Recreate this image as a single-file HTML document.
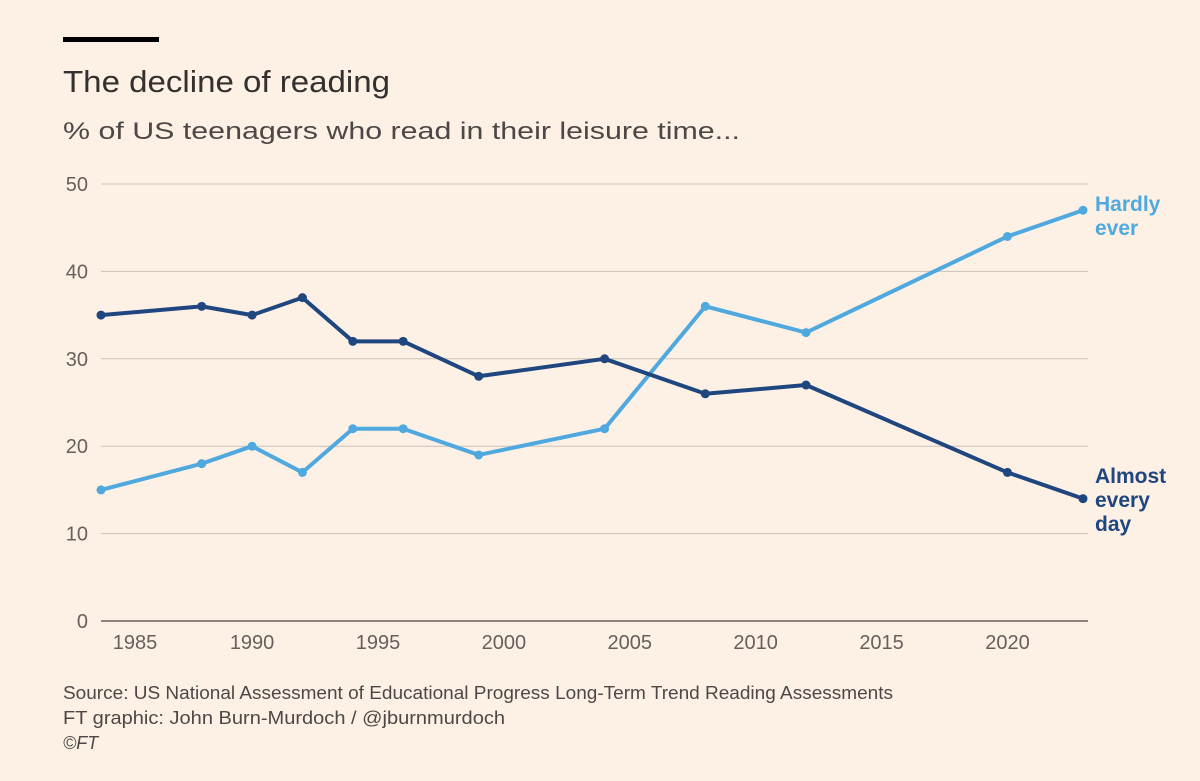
<!DOCTYPE html>
<html><head><meta charset="utf-8">
<style>
body{margin:0;background:#fdf1e6;font-family:"Liberation Sans",sans-serif;}
#wrap{position:relative;width:1200px;height:781px;overflow:hidden;background:#fdf1e6;}
</style></head>
<body>
<div id="wrap">
<svg id="svg" width="1200" height="781">
<rect x="63" y="37" width="96" height="5" fill="#000"/>
<text x="63" y="92" font-size="31" fill="#33302e" textLength="327" lengthAdjust="spacingAndGlyphs">The decline of reading</text>
<text x="63" y="139" font-size="24" fill="#4d4845" textLength="677" lengthAdjust="spacingAndGlyphs">% of US teenagers who read in their leisure time...</text>
<g id="grid"></g><g id="lines"></g>
<text x="63" y="699" font-size="18" fill="#4d4845" textLength="830" lengthAdjust="spacingAndGlyphs">Source: US National Assessment of Educational Progress Long-Term Trend Reading Assessments</text>
<text x="63" y="724" font-size="18" fill="#4d4845" textLength="442" lengthAdjust="spacingAndGlyphs">FT graphic: John Burn-Murdoch / @jburnmurdoch</text>
<text x="63" y="749" font-size="18" font-style="italic" fill="#4d4845">©FT</text>
</svg>
</div>
<script>
const years=[1984,1988,1990,1992,1994,1996,1999,2004,2008,2012,2020,2023];
const almostEveryDay=[35,36,35,37,32,32,28,30,26,27,17,14];
const hardlyEver=[15,18,20,17,22,22,19,22,36,33,44,47];
const yTicks=[0,10,20,30,40,50];
const xTicks=[1985,1990,1995,2000,2005,2010,2015,2020];
const NS="http://www.w3.org/2000/svg";
const x=v=>101+(v-1984)*(1083-101)/39;
const y=v=>621-v*(621-184)/50;
function mk(tag,attrs,parent){const e=document.createElementNS(NS,tag);for(const k in attrs)e.setAttribute(k,attrs[k]);parent.appendChild(e);return e;}
const g=document.getElementById('grid'),L=document.getElementById('lines');
yTicks.forEach(t=>{
 const l=mk('line',{x1:101,x2:1088,y1:y(t),y2:y(t),stroke:t===0?'#66605c':'#ccc1b7','stroke-width':t===0?1.5:1},g);
 
 
 const tx=mk('text',{x:88,y:y(t)+7,'font-size':20,fill:'#66605c','text-anchor':'end'},g);tx.textContent=t;
 
 
});
xTicks.forEach(t=>{
 const tx=mk('text',{x:Math.max(x(t),135),y:649,'font-size':20,fill:'#66605c','text-anchor':'middle'},g);tx.textContent=t;
 
 
});
function series(vals,color,name){
 const p=mk('polyline',{points:years.map((yr,i)=>x(yr)+','+y(vals[i])).join(' '),fill:'none',stroke:color,'stroke-width':4,'stroke-linejoin':'round'},L);
 
 
 years.forEach((yr,i)=>{
  const c=mk('circle',{cx:x(yr),cy:y(vals[i]),r:4.5,fill:color},L);
  
  
 });
}
series(hardlyEver,'#4fa9de','hardly-ever');
series(almostEveryDay,'#20467f','almost-every-day');
function label(lines,color,yy,name){
 const t=mk('text',{x:1095,y:yy,'font-size':21,'font-weight':'bold',fill:color},L);
 
 
 lines.forEach((s,i)=>{const ts=mk('tspan',{x:1095,dy:i?24:0},t);ts.textContent=s;});
}
label(['Hardly','ever'],'#4fa9de',211,'hardly-ever-label');
label(['Almost','every','day'],'#20467f',483,'almost-every-day-label');
</script>
</body></html>
